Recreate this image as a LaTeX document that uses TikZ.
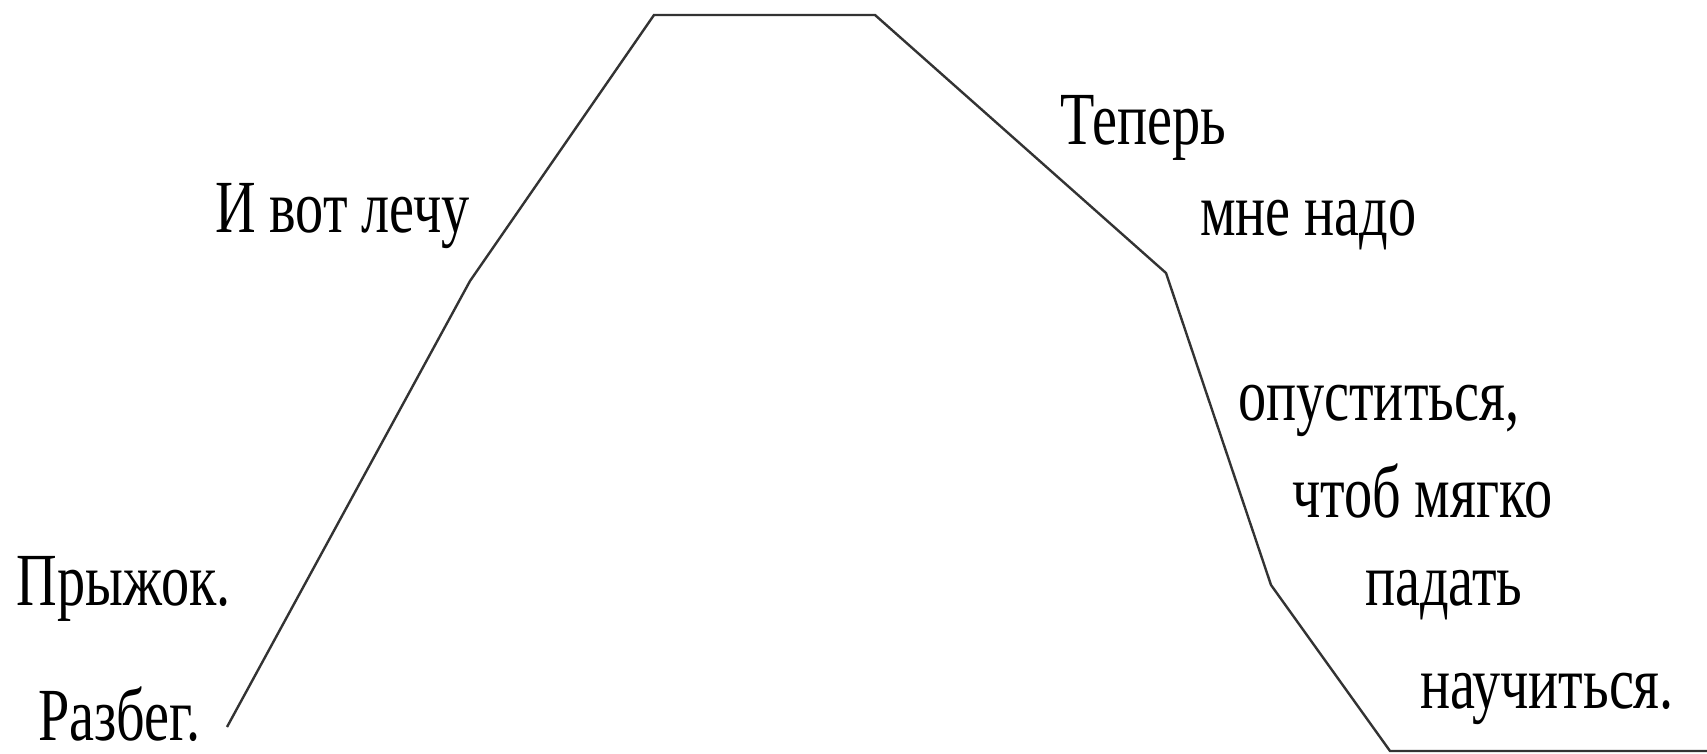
\documentclass[tikz,border=0pt]{standalone}
\usepackage{fontspec}
\setmainfont{Liberation Serif}[FakeStretch=0.75]
\begin{document}
\begin{tikzpicture}[x=0.5pt,y=-0.5pt,
  lbl/.style={anchor=base west,inner sep=0pt,outer sep=0pt,font=\fontsize{37.5}{40}\selectfont},
  curve/.style={line width=1.2pt,draw=black!80}]
\useasboundingbox (0,0) rectangle (1707,754);
\coordinate (p1) at (227,727);
\coordinate (p2) at (470,281);
\coordinate (p3) at (654,15);
\coordinate (p4) at (875,15);
\coordinate (p5) at (1166,273);
\coordinate (p6) at (1271,585);
\coordinate (p7) at (1390,751);
\coordinate (p8) at (1707,751);
\draw[curve] (p1) -- (p2) -- (p3) -- (p4) -- (p5) -- (p6) -- (p7) -- (p8);
\node[lbl] (t1) at (38,740) {Разбег.};
\node[lbl] (t2) at (17,605) {Прыжок.};
\node[lbl] (t3) at (215,233) {И вот лечу};
\node[lbl] (t4) at (1060,145) {Теперь};
\node[lbl] (t5) at (1200,235) {мне надо};
\node[lbl] (t6) at (1238,420) {опуститься,};
\node[lbl] (t7) at (1292,517) {чтоб мягко};
\node[lbl] (t8) at (1365,605) {падать};
\node[lbl] (t9) at (1420,708) {научиться.};
\end{tikzpicture}
\end{document}
